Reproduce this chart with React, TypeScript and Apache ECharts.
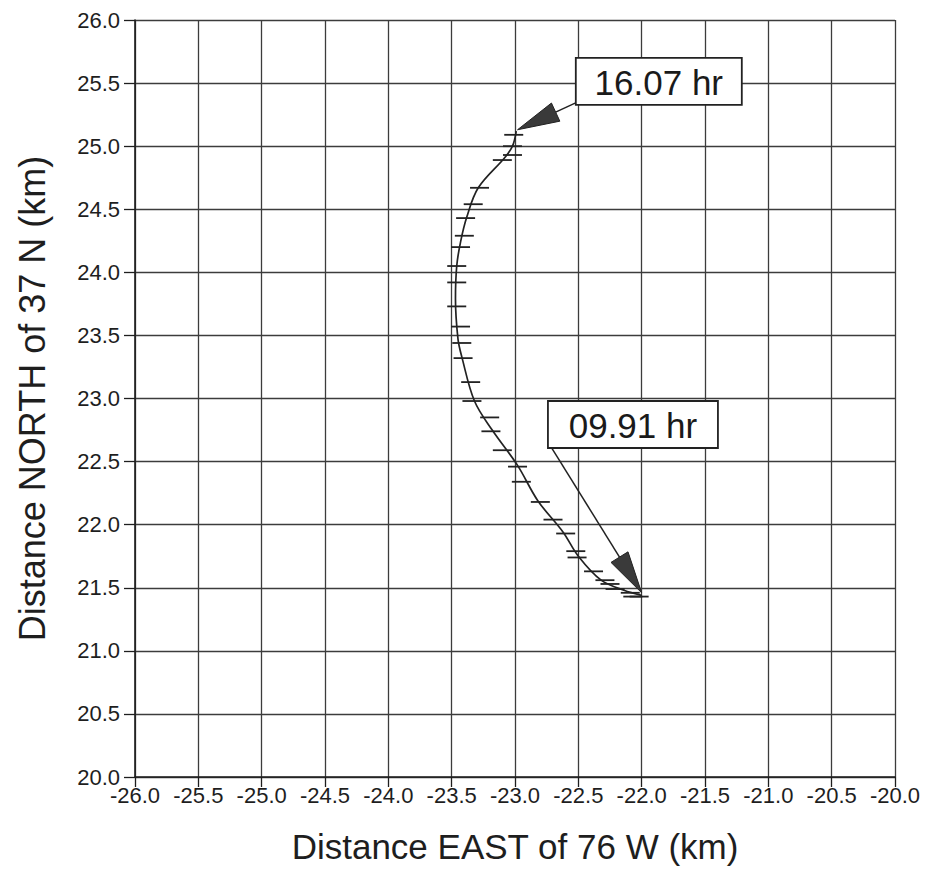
import React, { useEffect, useRef } from "react";
import * as echarts from "echarts";

// Horizontal error-bar fixes (x in km east of 76 W, y in km north of 37 N), 09.91 hr -> 16.07 hr
const fixX = [-22.02, -22.07, -22.09, -22.21, -22.25, -22.29, -22.38, -22.51, -22.52, -22.6, -22.7, -22.8, -22.95, -22.98, -23.1, -23.19, -23.2, -23.34, -23.35, -23.41, -23.42, -23.43, -23.46, -23.46, -23.46, -23.43, -23.4, -23.39, -23.33, -23.28, -23.1, -23.02, -23.02, -23.01];
const fixY = [21.43, 21.43, 21.46, 21.49, 21.53, 21.56, 21.63, 21.74, 21.79, 21.93, 22.04, 22.18, 22.34, 22.46, 22.59, 22.74, 22.85, 22.98, 23.13, 23.32, 23.44, 23.57, 23.73, 23.92, 24.05, 24.2, 24.29, 24.43, 24.54, 24.67, 24.89, 24.93, 25.0, 25.09];
const barHalfWidth = 0.075;

// Smooth track line
const pathX = [-22.0, -22.14, -22.32, -22.5, -22.62, -22.82, -22.98, -23.18, -23.32, -23.42, -23.45, -23.47, -23.46, -23.43, -23.38, -23.29, -23.08, -23.02, -22.99];
const pathY = [21.44, 21.48, 21.56, 21.75, 21.94, 22.19, 22.47, 22.75, 22.98, 23.33, 23.47, 23.79, 24.05, 24.24, 24.44, 24.67, 24.91, 25.0, 25.12];

const annLabels = ["16.07 hr", "09.91 hr"];
const annBoxX = [-22.52, -22.74];
const annBoxY = [25.7, 22.98];
const annBoxW = [166, 170];
const annTipX = [-22.98, -22.0];
const annTipY = [25.13, 21.46];

const FONT = "'Liberation Sans', Arial, Helvetica, sans-serif";

export default function App() {
  const ref = useRef<HTMLDivElement>(null);
  useEffect(() => {
    if (!ref.current) return;
    document.body.style.margin = "0";
    const chart = echarts.init(ref.current, undefined, { renderer: "svg" });
    const fixes = fixX.map((x, i) => [x, fixY[i]]);
    const path = pathX.map((x, i) => [x, pathY[i]]);
    chart.setOption({
      animation: false,
      backgroundColor: "#ffffff",
      grid: { left: 135, right: 30, top: 20, bottom: 89 },
      xAxis: {
        type: "value",
        min: -26,
        max: -20,
        interval: 0.5,
        name: "Distance EAST of 76 W (km)",
        nameLocation: "middle",
        nameGap: 52,
        nameTextStyle: { fontFamily: FONT, fontSize: 35, color: "#1e1e1e" },
        axisLine: { show: true, onZero: false, lineStyle: { color: "#1e1e1e", width: 1.6 } },
        axisTick: { show: true, length: 10, lineStyle: { color: "#1e1e1e", width: 1.3 } },
        axisLabel: { fontFamily: FONT, fontSize: 22, color: "#1e1e1e", margin: 7, formatter: (v: number) => v.toFixed(1) },
        splitLine: { show: true, lineStyle: { color: "#3c3c3c", width: 1.3 } },
      },
      yAxis: {
        type: "value",
        min: 20,
        max: 26,
        interval: 0.5,
        name: "Distance NORTH of 37 N (km)",
        nameLocation: "middle",
        nameGap: 85,
        nameTextStyle: { fontFamily: FONT, fontSize: 36, color: "#1e1e1e" },
        axisLine: { show: true, onZero: false, lineStyle: { color: "#1e1e1e", width: 1.6 } },
        axisTick: { show: true, length: 11, lineStyle: { color: "#1e1e1e", width: 1.3 } },
        axisLabel: { fontFamily: FONT, fontSize: 22, color: "#1e1e1e", margin: 15, formatter: (v: number) => v.toFixed(1) },
        splitLine: { show: true, lineStyle: { color: "#3c3c3c", width: 1.3 } },
      },
      series: [
        {
          type: "line",
          data: path,
          smooth: 0.35,
          showSymbol: false,
          lineStyle: { color: "#222", width: 1.7 },
          z: 3,
        },
        {
          type: "custom",
          data: fixes,
          z: 4,
          renderItem: (params: any, api: any) => {
            const x = api.value(0);
            const y = api.value(1);
            const a = api.coord([x - barHalfWidth, y]);
            const b = api.coord([x + barHalfWidth, y]);
            return {
              type: "line",
              shape: { x1: a[0], y1: a[1], x2: b[0], y2: b[1] },
              style: { stroke: "#222", lineWidth: 1.8 },
            };
          },
        },
      ],
    });

    const graphics: any[] = [];
    annLabels.forEach((label, i) => {
      const box = chart.convertToPixel({ gridIndex: 0 }, [annBoxX[i], annBoxY[i]]) as number[];
      const tip = chart.convertToPixel({ gridIndex: 0 }, [annTipX[i], annTipY[i]]) as number[];
      const w = annBoxW[i];
      const h = 47;
      const tail = [box[0] + 2, box[1] + h - 3];
      const dx = tip[0] - tail[0];
      const dy = tip[1] - tail[1];
      const len = Math.sqrt(dx * dx + dy * dy);
      const ux = dx / len;
      const uy = dy / len;
      const headLen = 42;
      const headW = 10;
      const base = [tip[0] - ux * headLen, tip[1] - uy * headLen];
      const px = -uy;
      const py = ux;
      graphics.push({
        type: "line",
        z: 10,
        shape: { x1: tail[0], y1: tail[1], x2: base[0], y2: base[1] },
        style: { stroke: "#222", lineWidth: 1.5 },
      });
      graphics.push({
        type: "polygon",
        z: 10,
        shape: {
          points: [
            [tip[0], tip[1]],
            [base[0] + px * headW, base[1] + py * headW],
            [base[0] - px * headW, base[1] - py * headW],
          ],
        },
        style: { fill: "#3a3a3a", stroke: "#222", lineWidth: 1 },
      });
      graphics.push({
        type: "rect",
        z: 11,
        shape: { x: box[0], y: box[1], width: w, height: h },
        style: { fill: "#ffffff", stroke: "#222", lineWidth: 1.8 },
      });
      graphics.push({
        type: "text",
        z: 12,
        x: box[0] + w / 2,
        y: box[1] + h / 2 + 1,
        style: {
          text: label,
          fontFamily: FONT,
          fontSize: 35,
          fill: "#1a1a1a",
          align: "center",
          verticalAlign: "middle",
        },
      });
    });
    chart.setOption({ graphic: graphics });

    return () => chart.dispose();
  }, []);
  return <div ref={ref} style={{ width: 925, height: 869 }} />;
}
